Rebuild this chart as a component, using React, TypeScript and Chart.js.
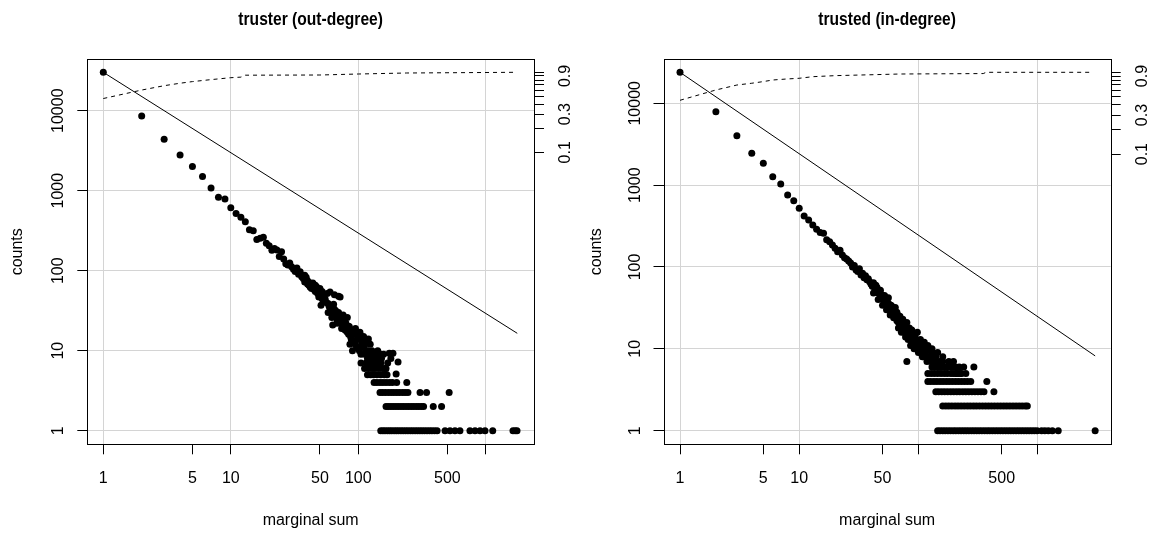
import React, { useEffect, useRef } from "react";
import { Chart, registerables } from "chart.js";
Chart.register(...registerables);

// ---------------- DATA ----------------
// truster (out-degree): [degree, count] for degrees seen individually
const outDegreePoints: number[][] = [
  [1, 30200], [2, 8600], [3, 4400], [4, 2800], [5, 2000], [6, 1500], [7, 1080], [8, 830], [9, 790], [10, 610],
  [11, 520], [12, 465], [13, 410], [14, 325], [15, 315], [16, 245], [17, 255], [18, 262], [19, 220], [20, 205],
  [21, 180], [22, 190], [23, 181], [24, 150], [25, 172], [26, 140], [27, 122], [28, 118], [29, 125], [30, 112],
  [31, 104], [32, 98], [33, 108], [34, 90], [35, 97], [36, 84], [37, 80], [38, 72], [39, 83], [40, 68],
  [41, 66], [42, 70], [43, 60], [44, 62], [45, 58], [46, 55], [47, 63], [48, 52], [49, 47], [50, 50],
  [51, 37], [52, 45], [53, 48], [54, 42], [55, 44], [56, 40], [57, 52], [58, 39], [59, 36], [60, 54],
  [61, 33], [62, 30], [63, 21], [64, 34], [65, 29], [66, 27], [67, 31], [68, 25], [69, 28], [70, 48],
  [71, 24], [72, 47], [73, 22], [74, 26], [75, 20], [76, 23], [77, 19], [78, 21], [79, 18], [80, 19],
  [82, 17], [84, 16], [85, 20], [87, 15], [88, 14], [90, 18], [92, 13], [94, 16], [95, 12], [97, 11],
  [100, 15], [102, 10], [104, 14], [105, 9], [108, 12], [110, 11], [112, 9], [115, 13], [118, 8], [120, 10],
  [122, 9], [125, 8], [128, 7], [130, 8], [135, 7], [140, 9], [175, 9.3], [187, 9.3], [205, 7.2], [198, 5.1],
  [38, 88], [40, 75], [42, 62], [44, 70], [46, 66], [48, 58], [50, 60], [52, 55], [53, 42], [65, 50],
  [58, 30], [60, 35], [62, 26], [64, 38], [66, 32], [68, 22], [70, 30], [72, 26], [74, 19], [76, 28],
  [78, 24], [80, 22], [82, 26], [84, 20], [86, 12], [88, 18], [90, 10], [92, 17], [95, 19], [98, 14],
  [100, 11], [103, 17], [106, 13], [110, 15], [113, 12], [116, 10], [120, 14], [124, 12], [128, 10], [132, 9],
  [138, 8], [142, 10], [148, 7], [152, 8], [158, 9], [162, 6], [170, 7], [180, 8], [150, 9],
];
// degrees whose count is a small integer (the horizontal bands)
const outCount7 = [105, 115, 125, 138, 150];
const outCount6 = [112, 120, 128, 135, 145, 155, 165];
const outCount5 = [118, 125, 132, 140, 150, 160, 168];
const outCount4 = [133, 140, 148, 156, 165, 175, 185, 200, 240];
const outCount3 = [148, 155, 163, 172, 181, 190, 200, 210, 222, 233, 245, 305, 343, 516];
const outCount2 = [165, 172, 180, 188, 197, 206, 216, 226, 237, 248, 260, 272, 285, 298, 312, 325, 387, 450];
const outCount1 = [150, 156, 162, 169, 176, 183, 191, 199, 207, 216, 225, 235, 245, 256, 267, 279, 291, 304, 317,
  331, 346, 362, 378, 396, 415, 479, 524, 573, 627, 751, 823, 901, 986, 1133, 1634, 1700, 1757];
const outRefLineX = [1, 1765];
const outRefLineY = [30200, 16.5];
const outCumX = [1, 2, 3, 4, 5, 7, 10, 12, 13, 50, 100, 240, 1757];
const outCumP = [0.47, 0.6, 0.68, 0.73, 0.765, 0.81, 0.856, 0.87, 0.92, 0.925, 0.952, 0.98, 1.0];

// trusted (in-degree)
const inDegreePoints: number[][] = [
  [1, 23900], [2, 7900], [3, 4000], [4, 2450], [5, 1850], [6, 1270], [7, 1030], [8, 760], [9, 646], [10, 521],
  [11, 420], [12, 375], [13, 326], [14, 290], [15, 263], [16, 258], [17, 215], [18, 204], [19, 186], [20, 170],
  [21, 154], [22, 160], [23, 140], [24, 130], [25, 125], [26, 118], [27, 112], [28, 100], [29, 104], [30, 92],
  [31, 88], [32, 95], [33, 80], [34, 84], [35, 74], [36, 78], [37, 70], [38, 72], [39, 66], [40, 62],
  [41, 58], [42, 64], [43, 55], [44, 52], [45, 56], [46, 48], [47, 50], [48, 44], [49, 46], [50, 40],
  [51, 42], [52, 38], [53, 35], [54, 40], [55, 33], [56, 36], [57, 31], [58, 30], [59, 34], [60, 28],
  [61, 26], [62, 30], [63, 25], [64, 27], [65, 24], [66, 22], [67, 26], [68, 21], [69, 23], [70, 20],
  [71, 19], [72, 22], [73, 18], [74, 17], [75, 20], [76, 16], [78, 18], [80, 15], [80, 7], [82, 17],
  [84, 14], [85, 16], [86, 13], [88, 15], [90, 12], [92, 14], [94, 11], [96, 13], [98, 10], [100, 12],
  [102, 11], [105, 9], [108, 10], [110, 8], [112, 11], [115, 9], [118, 7], [120, 8], [124, 10], [127, 7],
  [130, 9], [135, 6], [140, 8], [145, 6], [150, 7], [155, 6], [160, 7], [170, 6], [180, 7], [197, 7], [292, 6],
  [42, 48], [44, 60], [46, 40], [48, 52], [50, 34], [52, 45], [54, 30], [56, 42], [58, 26], [60, 33],
  [62, 24], [64, 32], [66, 28], [68, 18], [70, 25], [72, 16], [74, 23], [76, 19], [78, 14], [80, 21],
  [82, 13], [84, 18], [86, 11], [88, 17], [90, 14], [92, 10], [94, 15], [96, 12], [98, 16], [100, 9],
  [104, 13], [108, 8], [112, 12], [116, 10], [120, 11], [125, 8], [130, 10], [135, 8], [140, 7], [145, 9],
  [150, 6], [160, 8], [165, 6], [175, 6], [190, 6], [210, 5], [230, 5], [250, 5],
];
const inCount6 = [130, 140, 150, 160, 175, 190, 205, 220, 240];
const inCount5 = [120, 128, 136, 145, 155, 165, 175, 187, 196, 205, 215, 225];
const inCount4 = [120, 127, 135, 143, 152, 161, 171, 181, 192, 204, 216, 229, 243, 258, 275, 375];
const inCount3 = [140, 148, 157, 166, 176, 187, 198, 210, 222, 236, 250, 265, 281, 298, 316, 335, 355, 430];
const inCount2 = [160, 170, 180, 191, 203, 215, 228, 242, 257, 272, 289, 306, 325, 345, 366, 388, 411, 436, 463,
  491, 521, 552, 586, 622, 660, 700, 742, 787, 820];
const inCount1 = [145, 152, 160, 168, 177, 186, 196, 206, 217, 228, 240, 252, 265, 279, 293, 308, 324, 341, 359,
  378, 397, 418, 440, 463, 487, 512, 539, 567, 596, 627, 660, 694, 730, 768, 808, 850, 894, 940, 990, 1080, 1150,
  1230, 1330, 1490, 3040];
const inRefLineX = [1, 3040];
const inRefLineY = [23900, 8.2];
const inCumX = [1, 2, 3, 4, 5, 6, 8, 10, 13, 20, 42, 70, 350, 370, 2840];
const inCumP = [0.455, 0.608, 0.699, 0.735, 0.77, 0.805, 0.83, 0.845, 0.884, 0.91, 0.935, 0.953, 0.965, 1.0, 1.0];

// ticks and labels
const xTicks = [1, 5, 10, 50, 100, 500, 1000];
const xDecades = [1, 10, 100, 1000];
const outXLabels = ["1", "5", "10", "50", "100", "500"];
const inXLabels = ["1", "5", "10", "50", "500"];
const yTicks = [1, 10, 100, 1000, 10000];
const yLabels = ["1", "10", "100", "1000", "10000"];
const y2Ticks = [0.1, 0.2, 0.3, 0.4, 0.5, 0.6, 0.7, 0.8, 0.9, 1.0];
const y2Labels = ["0.1", "0.3", "0.9"];

// ---------------- CHART ----------------
const FONT = '"Liberation Sans", Arial, Helvetica, sans-serif';
const CW = 579;
const CH = 535;

type PanelCfg = {
  title: string;
  points: number[][];
  rows: [number, number[]][];
  lineX: number[];
  lineY: number[];
  cumX: number[];
  cumP: number[];
  xLabels: string[];
  xMin: number; xMax: number;
  yMin: number; yMax: number;
  y2Min: number; y2Max: number;
  leftW: number; rightW: number;
  offset: number;
};

const decorPlugin = {
  id: "decor",
  afterDraw(chart: any, _args: any, opts: any) {
    const { ctx, chartArea: a, scales } = chart;
    ctx.save();
    ctx.strokeStyle = "#000";
    ctx.lineWidth = 1;
    const L = Math.round(a.left), R = Math.round(a.right), T = Math.round(a.top), B = Math.round(a.bottom);
    ctx.strokeRect(L + 0.5, T + 0.5, R - L, B - T);
    ctx.fillStyle = "#000";
    ctx.font = `16px ${FONT}`;
    ctx.textAlign = "center";
    ctx.textBaseline = "alphabetic";
    (opts.xLabels as string[]).forEach((s) => {
      ctx.fillText(s, scales.x.getPixelForValue(Number(s)), a.bottom + 39);
    });
    const rot = (s: string, x: number, y: number) => {
      ctx.save();
      ctx.translate(x, y);
      ctx.rotate(-Math.PI / 2);
      ctx.textAlign = "center";
      ctx.fillText(s, 0, 0);
      ctx.restore();
    };
    (opts.yLabels as string[]).forEach((s) => rot(s, a.left - 24, scales.y.getPixelForValue(Number(s))));
    (opts.y2Labels as string[]).forEach((s) => rot(s, a.right + 36, scales.y2.getPixelForValue(Number(s))));
    ctx.fillText("marginal sum", (a.left + a.right) / 2, a.bottom + 81);
    rot("counts", 21.5, (a.top + a.bottom) / 2);
    // title: bold, slightly condensed like the reference's narrow bold face
    ctx.save();
    ctx.translate((a.left + a.right) / 2, 25);
    ctx.scale(0.82, 1);
    ctx.font = `bold 19px ${FONT}`;
    ctx.textAlign = "center";
    ctx.fillText(opts.title, 0, 0);
    ctx.restore();
    ctx.restore();
  },
};

function buildConfig(c: PanelCfg): any {
  const pts: { x: number; y: number }[] = c.points.map(([x, y]) => ({ x, y }));
  c.rows.forEach(([cnt, xs]) => xs.forEach((x) => pts.push({ x, y: cnt })));
  const line = c.lineX.map((x, i) => ({ x, y: c.lineY[i] }));
  const cum = c.cumX.map((x, i) => ({ x, y: c.cumP[i] }));
  const gridColor = (list: number[]) => (ctx: any) =>
    ctx.tick && list.some((v) => Math.abs(v - ctx.tick.value) < 1e-9) ? "#d4d4d4" : "rgba(0,0,0,0)";
  return {
    type: "scatter",
    data: {
      datasets: [
        {
          data: pts, showLine: false, pointRadius: 3.5, pointBackgroundColor: "#000",
          pointBorderWidth: 0, pointBorderColor: "#000", yAxisID: "y",
        },
        {
          data: line, showLine: true, borderColor: "#000", borderWidth: 1, pointRadius: 0, yAxisID: "y",
        },
        {
          data: cum, showLine: true, borderColor: "#000", borderWidth: 1, borderDash: [4, 4],
          pointRadius: 0, yAxisID: "y2",
        },
      ],
    },
    options: {
      responsive: false,
      animation: false,
      devicePixelRatio: 1,
      layout: { padding: { top: 59.3, left: 0, right: 0, bottom: 0 } },
      plugins: {
        legend: { display: false },
        tooltip: { enabled: false },
        title: { display: false },
        decor: { xLabels: c.xLabels, yLabels, y2Labels, title: c.title },
      },
      scales: {
        x: {
          type: "logarithmic", position: "bottom", min: c.xMin, max: c.xMax, bounds: "data",
          afterBuildTicks: (s: any) => { s.ticks = xTicks.map((v) => ({ value: v })); },
          afterFit: (s: any) => { s.height = 90.7; },
          ticks: { display: false },
          grid: { color: gridColor(xDecades), tickColor: "#000", tickLength: 10, lineWidth: 1, drawTicks: true },
          border: { display: false },
        },
        y: {
          type: "logarithmic", position: "left", min: c.yMin, max: c.yMax, bounds: "data",
          afterBuildTicks: (s: any) => { s.ticks = yTicks.map((v) => ({ value: v })); },
          afterFit: (s: any) => { s.width = c.leftW; },
          ticks: { display: false },
          grid: { color: gridColor(yTicks), tickColor: "#000", tickLength: 10, lineWidth: 1, drawTicks: true },
          border: { display: false },
        },
        y2: {
          type: "logarithmic", position: "right", min: c.y2Min, max: c.y2Max, bounds: "data",
          afterBuildTicks: (s: any) => { s.ticks = y2Ticks.map((v) => ({ value: v })); },
          afterFit: (s: any) => { s.width = c.rightW; },
          ticks: { display: false },
          grid: { drawOnChartArea: false, tickColor: "#000", tickLength: 10, lineWidth: 1, drawTicks: true },
          border: { display: false },
        },
      },
    },
    plugins: [decorPlugin],
  };
}

const leftPanel: PanelCfg = {
  title: "truster (out-degree)",
  points: outDegreePoints,
  rows: [[7, outCount7], [6, outCount6], [5, outCount5], [4, outCount4], [3, outCount3], [2, outCount2], [1, outCount1]],
  lineX: outRefLineX, lineY: outRefLineY,
  cumX: outCumX, cumP: outCumP,
  xLabels: outXLabels,
  xMin: 0.749, xMax: 2388,
  yMin: 0.676, yMax: 43900,
  y2Min: 0.676 / 30200, y2Max: 43900 / 30200,
  leftW: 87.3, rightW: 45,
  offset: 0,
};

const rightPanel: PanelCfg = {
  title: "trusted (in-degree)",
  points: inDegreePoints,
  rows: [[6, inCount6], [5, inCount5], [4, inCount4], [3, inCount3], [2, inCount2], [1, inCount1]],
  lineX: inRefLineX, lineY: inRefLineY,
  cumX: inCumX, cumP: inCumP,
  xLabels: inXLabels,
  xMin: 0.727, xMax: 4105,
  yMin: 0.682, yMax: 34480,
  y2Min: 0.682 / 23920, y2Max: 34480 / 23920,
  leftW: 84.5, rightW: 47.3,
  offset: 579,
};

function Panel({ cfg }: { cfg: PanelCfg }) {
  const ref = useRef<HTMLCanvasElement>(null);
  useEffect(() => {
    const chart = new Chart(ref.current as HTMLCanvasElement, buildConfig(cfg));
    return () => chart.destroy();
  }, [cfg]);
  return (
    <canvas
      ref={ref}
      width={CW}
      height={CH}
      style={{ position: "absolute", left: cfg.offset, top: 0, width: CW, height: CH }}
    />
  );
}

export default function App() {
  return (
    <div style={{ position: "absolute", left: 0, top: 0, width: 1158, height: 535, background: "#fff" }}>
      <Panel cfg={leftPanel} />
      <Panel cfg={rightPanel} />
    </div>
  );
}
